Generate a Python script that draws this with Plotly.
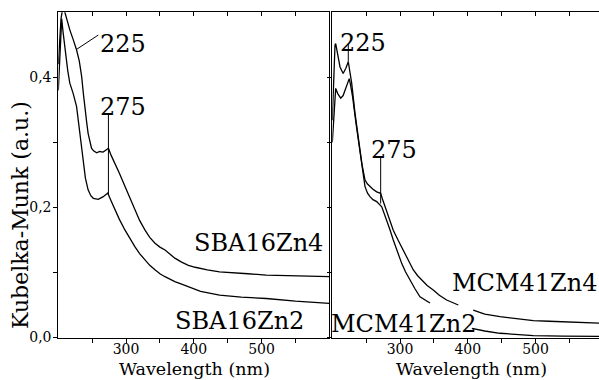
import plotly.graph_objects as go

# ---------------- data ----------------
sba_wl_zn4 = [200, 204, 207, 212, 217, 222, 227, 231, 234.5, 237, 239.4, 242, 244, 247, 249, 252,
              256.7, 261, 266, 270, 274, 278, 283.7, 290, 298.5, 306, 313, 320, 328, 335, 342.7,
              350, 357.5, 365, 372, 382, 392, 402, 410, 420, 438, 460, 480, 507, 540, 570, 600]
sba_zn4 = [0.42, 0.49, 0.51, 0.49, 0.473, 0.458, 0.442, 0.425, 0.401, 0.375, 0.350, 0.330, 0.314,
           0.298, 0.291, 0.287, 0.284, 0.286, 0.285, 0.288, 0.291, 0.280, 0.268, 0.253, 0.232,
           0.213, 0.196, 0.180, 0.165, 0.154, 0.145, 0.139, 0.1345, 0.128, 0.122, 0.116, 0.111,
           0.108, 0.106, 0.104, 0.101, 0.099, 0.098, 0.096, 0.095, 0.094, 0.0935]

sba_wl_zn2 = [200, 203, 205, 207, 210, 214, 217, 222, 227, 232, 237, 240, 244, 248, 251.7, 259,
              266.4, 273, 278, 283.7, 290, 298.5, 306, 313, 320, 328, 335, 342.7, 350, 357.5,
              365, 372, 382, 392, 402, 410, 438, 470, 507, 550, 600]
sba_zn2 = [0.38, 0.45, 0.49, 0.47, 0.442, 0.41, 0.391, 0.375, 0.355, 0.309, 0.263, 0.245, 0.227,
           0.218, 0.214, 0.2125, 0.2165, 0.222, 0.210, 0.196, 0.182, 0.165, 0.151, 0.1396, 0.129,
           0.119, 0.111, 0.104, 0.098, 0.0935, 0.0895, 0.0858, 0.082, 0.078, 0.074, 0.071, 0.065,
           0.062, 0.060, 0.056, 0.0526]

mcm_wl_zn4 = [200, 202, 204, 205, 208, 211.4, 216, 220, 223.6, 226, 228.6, 233.5, 237, 240.9, 244,
              248.3, 252, 255.6, 260, 265.5, 271.4, 274, 277.8, 284, 290, 297, 304.8, 312, 319.6,
              326, 332, 340, 349, 358, 368.8, 378, 386, None, 408, 425, 447.5, 470, 496.7, 520,
              546, 575, 594]
mcm_zn4 = [0.334, 0.40, 0.45, 0.452, 0.435, 0.416, 0.406, 0.414, 0.424, 0.41, 0.391, 0.345, 0.315,
           0.288, 0.265, 0.242, 0.236, 0.232, 0.228, 0.224, 0.2217, 0.213, 0.201, 0.183, 0.165,
           0.150, 0.1345, 0.118, 0.1038, 0.095, 0.088, 0.080, 0.073, 0.065, 0.0576, 0.053, 0.050,
           None, 0.042, 0.036, 0.032, 0.029, 0.026, 0.025, 0.024, 0.023, 0.022]

mcm_wl_zn2 = [200, 203, 205, 208, 212.4, 216, 220, 225, 227, 230, 235, 242, 248.3, 252, 255.6, 260,
              265.5, 273, 280.3, 285, 290, 296, 302.4, 308, 314.7, 322, 329.4, 337, 344.2, None,
              406, 425, 447.5, 470, 496.7, 540, 594]
mcm_zn2 = [0.30, 0.36, 0.383, 0.375, 0.368, 0.372, 0.385, 0.398, 0.388, 0.370, 0.329, 0.278, 0.232,
           0.222, 0.2165, 0.212, 0.209, 0.201, 0.181, 0.166, 0.150, 0.132, 0.114, 0.101, 0.088,
           0.075, 0.0627, 0.057, 0.053, None, 0.0141, 0.010, 0.0065, 0.0045, 0.0030, 0.0022, 0.0018]

# peak marker lines: (x0, y0, x1, y1)
sba_leaders = [(227, 0.443, 259, 0.465), (274, 0.219, 274, 0.345)]
mcm_leaders = [(223.6, 0.424, 223.6, 0.452), (271.4, 0.206, 271.4, 0.278)]

# labels: (text, x, y)
sba_labels = [("225", 295, 0.452), ("275", 295, 0.354), ("SBA16Zn4", 495, 0.145), ("SBA16Zn2", 467, 0.025)]
mcm_labels = [("225", 246, 0.453), ("275", 291.5, 0.289), ("MCM41Zn4", 484, 0.084), ("MCM41Zn2", 305, 0.02)]

x_tickvals = [250, 300, 350, 400, 450, 500, 550]
x_ticktext = ["", "300", "", "400", "", "500", ""]
y_tickvals = [0, 0.1, 0.2, 0.3, 0.4]
y_ticktext = ["0,0", "", "0,2", "", "0,4"]

# ---------------- figure ----------------
FONT = "DejaVu Serif"
W, H = 599, 380
left_dom = [58.3 / W, 329.3 / W]
right_dom = [332.3 / W, 1.0]
y_dom = [1 - 337.5 / H, 1 - 12.3 / H]

fig = go.Figure()
line = dict(color="black", width=1.3)

for xs, ys, xa, ya in [(sba_wl_zn4, sba_zn4, "x", "y"), (sba_wl_zn2, sba_zn2, "x", "y"),
                       (mcm_wl_zn4, mcm_zn4, "x2", "y2"), (mcm_wl_zn2, mcm_zn2, "x2", "y2")]:
    fig.add_trace(go.Scatter(x=xs, y=ys, mode="lines", line=line, xaxis=xa, yaxis=ya,
                             showlegend=False, hoverinfo="skip", connectgaps=False))

for leaders, xa, ya in [(sba_leaders, "x", "y"), (mcm_leaders, "x2", "y2")]:
    for x0, y0, x1, y1 in leaders:
        fig.add_trace(go.Scatter(x=[x0, x1], y=[y0, y1], mode="lines",
                                 line=dict(color="black", width=1), xaxis=xa, yaxis=ya,
                                 showlegend=False, hoverinfo="skip"))

# invisible traces to activate the top (inside-tick) axes
fig.add_trace(go.Scatter(x=sba_wl_zn4, y=sba_zn4, mode="lines", line=dict(width=0), opacity=0,
                         xaxis="x3", yaxis="y", showlegend=False, hoverinfo="skip"))
fig.add_trace(go.Scatter(x=mcm_wl_zn4, y=mcm_zn4, mode="lines", line=dict(width=0), opacity=0,
                         xaxis="x4", yaxis="y2", showlegend=False, hoverinfo="skip"))

ann = []
for labels, xr, yr in [(sba_labels, "x", "y"), (mcm_labels, "x2", "y2")]:
    for t, x, y in labels:
        ann.append(dict(text=t, x=x, y=y, xref=xr, yref=yr, showarrow=False,
                        xanchor="center", yanchor="middle",
                        font=dict(family=FONT, size=24, color="black")))

ann.append(dict(text="Kubelka-Munk (a.u.)", x=20 / W, y=1 - 215 / H, xref="paper", yref="paper",
                xanchor="center", yanchor="middle",
                showarrow=False, textangle=-90, font=dict(family=FONT, size=22, color="black")))
ann.append(dict(text="Wavelength (nm)", x=195 / W, y=1 - 369 / H, xref="paper", yref="paper",
                xanchor="center", yanchor="middle",
                showarrow=False, font=dict(family=FONT, size=17.5, color="black")))
ann.append(dict(text="Wavelength (nm)", x=471.7 / W, y=1 - 369 / H, xref="paper", yref="paper",
                xanchor="center", yanchor="middle",
                showarrow=False, font=dict(family=FONT, size=17.5, color="black")))

tickfont = dict(family=FONT, size=14, color="black")
xcommon = dict(range=[200, 600], tickmode="array", tickvals=x_tickvals, ticktext=x_ticktext,
               ticks="outside", ticklen=4, tickcolor="black", showline=True, linecolor="black",
               linewidth=1, showgrid=False, zeroline=False, tickfont=tickfont, automargin=False,
               ticklabelstandoff=-5)
topcommon = dict(range=[200, 600], tickmode="array", tickvals=x_tickvals, side="top",
                 ticks="inside", ticklen=4, tickcolor="black", showline=True, linecolor="black",
                 linewidth=1, showgrid=False, zeroline=False, showticklabels=False, automargin=False)
ycommon = dict(range=[0, 0.5], domain=y_dom, tickmode="array", tickvals=y_tickvals,
               ticks="outside", ticklen=4, tickcolor="black", showline=True, linecolor="black",
               linewidth=1, showgrid=False, zeroline=False, tickfont=tickfont, automargin=False,
               ticklabelstandoff=-1)

right_range = [200, 200 + (W - 332.3) / 0.6775]

fig.update_layout(
    template="none",
    width=W, height=H, margin=dict(l=0, r=0, t=0, b=0, pad=0, autoexpand=False),
    font=dict(family=FONT, color="black"),
    paper_bgcolor="white", plot_bgcolor="white", showlegend=False,
    xaxis=dict(domain=left_dom, anchor="y", **xcommon),
    xaxis3=dict(domain=left_dom, anchor="y", overlaying="x", **topcommon),
    yaxis=dict(anchor="x", ticktext=y_ticktext, mirror=True, **ycommon),
    xaxis2=dict(domain=right_dom, anchor="y2", **{**xcommon, "range": right_range}),
    xaxis4=dict(domain=right_dom, anchor="y2", overlaying="x2", **{**topcommon, "range": right_range}),
    yaxis2=dict(anchor="x2", showticklabels=False, mirror=False, **ycommon),
    annotations=ann,
)

fig.write_html("out.html")
